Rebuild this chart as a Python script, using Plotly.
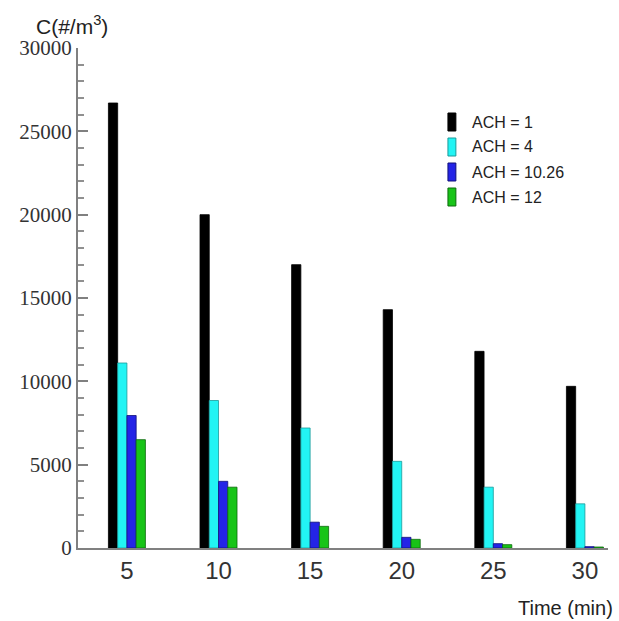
import plotly.graph_objects as go

# Particle concentration over time for four air-change rates
times = [5, 10, 15, 20, 25, 30]
series_names = ["ACH = 1", "ACH = 4", "ACH = 10.26", "ACH = 12"]
ach_1 = [26700, 20000, 17000, 14300, 11800, 9700]
ach_4 = [11100, 8850, 7200, 5200, 3650, 2650]
ach_10_26 = [7950, 4000, 1550, 640, 260, 80]
ach_12 = [6500, 3650, 1300, 520, 200, 60]
y_ticks = [0, 5000, 10000, 15000, 20000, 25000, 30000]
y_tick_text = [str(v) for v in y_ticks]

colors = ["#000000", "#22f4f4", "#2424e6", "#18c418"]
edges = ["#000000", "#1a9a9a", "#10107a", "#0c6a0c"]
values = [ach_1, ach_4, ach_10_26, ach_12]

fig = go.Figure()
for name, vals, col, edge in zip(series_names, values, colors, edges):
    fig.add_trace(go.Bar(
        x=times, y=vals, name=name,
        marker=dict(color=col, line=dict(color=edge, width=0.8)),
        showlegend=False,
    ))

# Hand-drawn legend: tall narrow swatches with labels
leg_x0, leg_x1 = 0.698, 0.713
row_y = [122, 147, 172, 197]
for py, name, col, edge in zip(row_y, series_names, colors, edges):
    top = (548 - (py - 9)) / 500
    bot = (548 - (py + 9)) / 500
    fig.add_shape(type="rect", xref="paper", yref="paper",
                  x0=leg_x0, x1=leg_x1, y0=bot, y1=top,
                  fillcolor=col, line=dict(color=edge, width=1))
    fig.add_annotation(xref="paper", yref="paper", x=(470 - 78) / 530,
                       y=(548 - py) / 500, text=name, showarrow=False,
                       xanchor="left", yanchor="middle",
                       font=dict(family="Liberation Sans", size=16, color="#222"))

fig.add_annotation(xref="paper", yref="paper", x=(72 - 78) / 530, y=(548 - 25) / 500,
                   text="C(#/m<sup>3</sup>)", showarrow=False,
                   xanchor="center", yanchor="middle",
                   font=dict(family="Liberation Sans", size=21, color="#222"))
fig.add_annotation(xref="paper", yref="paper", x=(615 - 78) / 530, y=(548 - 608) / 500,
                   text="Time (min)", showarrow=False,
                   xanchor="right", yanchor="middle",
                   font=dict(family="Liberation Sans", size=20, color="#222"))

fig.update_layout(
    width=619, height=621,
    margin=dict(l=78, r=11, t=48, b=73),
    paper_bgcolor="white", plot_bgcolor="white",
    barmode="group", bargap=0.596, bargroupgap=0,
    xaxis=dict(
        range=[2.33, 31.26], tickvals=times, ticktext=[str(t) for t in times],
        showline=True, linecolor="#808080", linewidth=2,
        showgrid=False, zeroline=False, ticks="",
        tickfont=dict(family="Liberation Sans", size=24, color="#333"),
    ),
    yaxis=dict(
        range=[0, 30000], tickvals=y_ticks, ticktext=y_tick_text,
        showline=True, linecolor="#808080", linewidth=2,
        showgrid=False, zeroline=False,
        ticks="inside", ticklen=10, tickwidth=2, tickcolor="#808080",
        minor=dict(ticks="inside", dtick=1000, ticklen=6, tickwidth=1.5, tickcolor="#909090"),
        tickfont=dict(family="Liberation Serif", size=21, color="#333"),
    ),
)

fig.write_html("out.html")
